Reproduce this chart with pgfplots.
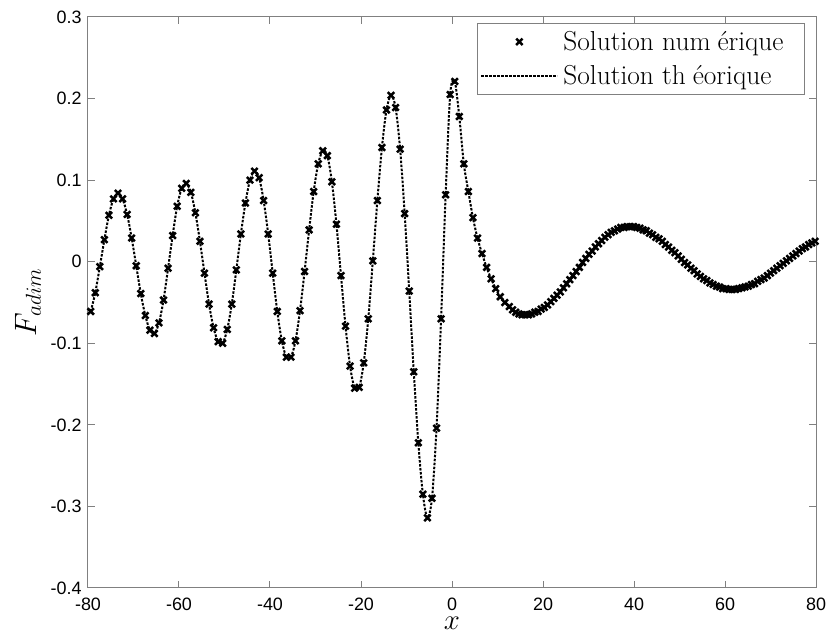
\RequirePackage{fix-cm}
\documentclass[border=0pt]{standalone}
\usepackage{fontspec}
\usepackage{pgfplots}
\usepackage{pgfplotstable}
\pgfplotsset{compat=1.18}
\newfontfamily\tickfont{Liberation Sans}
\definecolor{axisgray}{gray}{0.5}

\pgfplotsset{
  numleg/.style={legend image code/.code={\path (0bp,0bp) (76bp,0bp); \draw[##1] plot coordinates {(38bp,0bp)};}},
  theoleg/.style={legend image code/.code={\draw[##1] (0bp,0bp) -- (76bp,0bp);}},
}

% F_adim (numerical points, ~1 unit apart left of x=12, ~0.7 right of it)
\pgfplotstableread{
x y
-79.4 -0.061
-78.4 -0.038
-77.4 -0.006
-76.4 0.027
-75.4 0.057
-74.4 0.077
-73.4 0.084
-72.4 0.077
-71.4 0.058
-70.4 0.029
-69.4 -0.005
-68.4 -0.039
-67.4 -0.066
-66.4 -0.084
-65.4 -0.088
-64.4 -0.075
-63.4 -0.047
-62.4 -0.008
-61.4 0.032
-60.4 0.068
-59.4 0.090
-58.4 0.096
-57.4 0.085
-56.4 0.060
-55.4 0.025
-54.4 -0.014
-53.4 -0.052
-52.4 -0.081
-51.4 -0.098
-50.4 -0.100
-49.4 -0.083
-48.4 -0.052
-47.4 -0.010
-46.4 0.034
-45.4 0.072
-44.4 0.100
-43.4 0.111
-42.4 0.103
-41.4 0.075
-40.4 0.034
-39.4 -0.014
-38.4 -0.061
-37.4 -0.097
-36.4 -0.117
-35.4 -0.117
-34.4 -0.097
-33.4 -0.060
-32.4 -0.012
-31.4 0.039
-30.4 0.086
-29.4 0.120
-28.4 0.136
-27.4 0.130
-26.4 0.098
-25.4 0.046
-24.4 -0.017
-23.4 -0.079
-22.4 -0.128
-21.4 -0.155
-20.4 -0.154
-19.4 -0.124
-18.4 -0.070
-17.4 0.001
-16.4 0.075
-15.4 0.140
-14.4 0.186
-13.4 0.204
-12.4 0.189
-11.4 0.138
-10.4 0.059
-9.4 -0.036
-8.4 -0.135
-7.4 -0.222
-6.4 -0.285
-5.4 -0.314
-4.4 -0.290
-3.4 -0.204
-2.4 -0.070
-1.4 0.082
-0.4 0.205
0.6 0.221
1.6 0.178
2.6 0.120
3.6 0.086
4.6 0.054
5.6 0.029
6.6 0.010
7.6 -0.007
8.6 -0.021
9.6 -0.033
10.6 -0.043
11.6 -0.050
12.6 -0.055
13.3 -0.059
14.0 -0.062
14.7 -0.064
15.4 -0.065
16.1 -0.065
16.8 -0.065
17.5 -0.064
18.2 -0.062
18.9 -0.061
19.6 -0.058
20.3 -0.056
21.0 -0.053
21.7 -0.049
22.4 -0.045
23.1 -0.041
23.8 -0.037
24.5 -0.032
25.2 -0.027
25.9 -0.022
26.6 -0.017
27.3 -0.012
28.0 -0.007
28.7 -0.001
29.4 0.004
30.1 0.009
30.8 0.013
31.5 0.018
32.2 0.022
32.9 0.026
33.6 0.030
34.3 0.033
35.0 0.036
35.7 0.038
36.4 0.040
37.1 0.042
37.8 0.042
38.5 0.043
39.2 0.043
39.9 0.043
40.6 0.042
41.3 0.041
42.0 0.039
42.7 0.038
43.4 0.035
44.1 0.033
44.8 0.030
45.5 0.028
46.2 0.025
46.9 0.021
47.6 0.018
48.3 0.014
49.0 0.011
49.7 0.007
50.4 0.003
51.1 -0.001
51.8 -0.004
52.5 -0.008
53.2 -0.011
53.9 -0.015
54.6 -0.018
55.3 -0.021
56.0 -0.023
56.7 -0.026
57.4 -0.028
58.1 -0.030
58.8 -0.031
59.5 -0.033
60.2 -0.033
60.9 -0.034
61.6 -0.034
62.3 -0.034
63.0 -0.033
63.7 -0.032
64.4 -0.031
65.1 -0.030
65.8 -0.028
66.5 -0.027
67.2 -0.024
67.9 -0.022
68.6 -0.020
69.3 -0.017
70.0 -0.014
70.7 -0.011
71.4 -0.008
72.1 -0.005
72.8 -0.002
73.5 0.001
74.2 0.004
74.9 0.007
75.6 0.010
76.3 0.013
77.0 0.016
77.7 0.018
78.4 0.021
79.1 0.023
79.8 0.025
}\solution

\begin{document}
\begin{tikzpicture}
\begin{axis}[
  scale only axis,
  width=728bp, height=571bp,
  xmin=-80, xmax=80, ymin=-0.4, ymax=0.3,
  xtick={-80,-60,-40,-20,0,20,40,60,80},
  ytick={-0.4,-0.3,-0.2,-0.1,0,0.1,0.2,0.3},
  scaled y ticks=false,
  axis line style={axisgray, line width=1bp},
  tick style={axisgray, line width=1bp},
  major tick length=7bp,
  tick align=inside,
  tick label style={font=\tickfont\fontsize{18}{20}\selectfont, black},
  /pgf/number format/assume math mode=true,
  yticklabel style={/pgf/number format/fixed, /pgf/number format/precision=1, xshift=-3bp},
  xticklabel style={inner sep=1bp, yshift=-8.5bp},
  xlabel={$x$},
  ylabel={$F_{adim}$},
  label style={font=\fontsize{31}{34}\selectfont, inner sep=0pt},
  xlabel style={at={(axis description cs:0.5,-0.062)}, anchor=center, font=\fontsize{29}{32}\selectfont},
  ylabel style={at={(axis description cs:-0.0824,0.5)}, anchor=center},
  legend style={at={(axis description cs:0.985,0.9895)}, anchor=north east,
    draw=axisgray, line width=1bp, font=\fontsize{27.5}{30}\selectfont,
    inner xsep=3bp, inner ysep=5bp, row sep=7.5bp, column sep=3bp,
    nodes={inner xsep=2bp, inner ysep=3bp}},
  legend cell align=left,
]
\addplot[only marks, mark=x, mark size=4.5bp, mark options={line width=2.5bp, black}, numleg]
  table {\solution};
\addplot[smooth, black, line width=2bp, dash pattern=on 2.5bp off 1.5bp, theoleg]
  table {\solution};
\legend{Solution num\kern0.25em érique\hspace*{16bp}, Solution th\kern0.25em éorique\hspace*{16bp}}
\end{axis}
\pgfresetboundingbox
\path ([shift={(-88bp,-46bp)}]current axis.south west) rectangle ([shift={(10bp,17bp)}]current axis.north east);
\end{tikzpicture}
\end{document}
